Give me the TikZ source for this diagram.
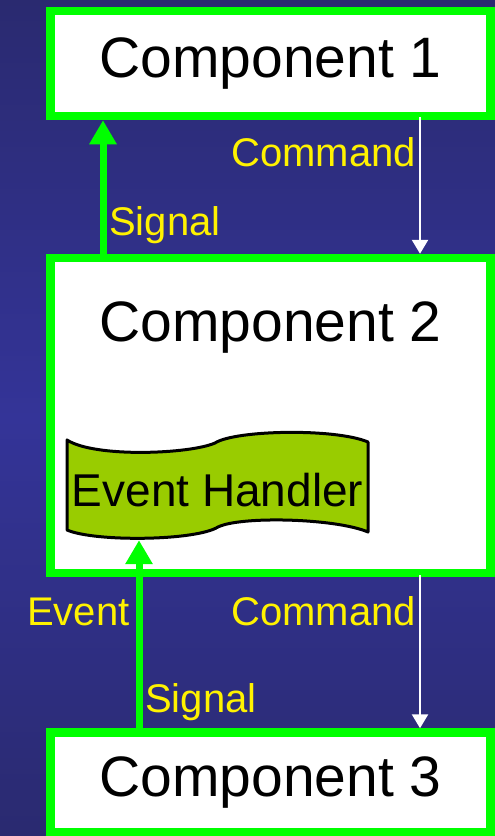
\documentclass[tikz,border=0pt]{standalone}
\usepackage{fontspec}
\setmainfont{Liberation Sans}
\usetikzlibrary{arrows.meta}
\usetikzlibrary{positioning}

\definecolor{slideblue}{HTML}{343498}
\definecolor{slidedark}{HTML}{2A2A70}
\definecolor{boxgreen}{HTML}{00FF00}
\definecolor{handlergreen}{HTML}{99CC00}

\begin{document}
\begin{tikzpicture}[x=1pt,y=-1pt,
	comp node/.style={rectangle,draw=boxgreen,fill=white,line width=8.5pt,
		minimum width=440pt,font=\fontsize{57}{60}\selectfont},
	signal/.style={draw=boxgreen,line width=7pt,-{Triangle[width=26pt,length=24pt]}},
	command/.style={draw=white,line width=2.5pt,-{Triangle[width=16pt,length=14pt]}},
	tag/.style={text=yellow,font=\fontsize{40}{44}\selectfont,inner sep=0pt}]

	% background
	\fill[top color=slidedark,bottom color=slidedark,middle color=slideblue] (0,0) rectangle (495,836);
	\useasboundingbox (0,0) rectangle (495,836);

	\node[comp node,minimum height=105pt] (comp1) at (270.5,63.5) {Component 1};
	\node[comp node,minimum height=315pt] (comp2) at (270.5,415.5) {};
	\node[comp node,minimum height=99.5pt] (comp3) at (270.5,782.25) {Component 3};
	\node[font=\fontsize{57}{60}\selectfont,inner sep=0pt] (comp2title) [below=47.5pt of comp2.north] {Component 2};

	% event handler banner
	\draw[fill=handlergreen,line width=3pt,line join=round]
	(67,440) .. controls (95,458) and (190,454) .. (215,443)
	.. controls (235,430) and (335,428) .. (368,442) -- (368,532)
	.. controls (335,518) and (240,516) .. (218,527)
	.. controls (195,541) and (95,542) .. (67,530) -- cycle;
	\node[font=\fontsize{46}{50}\selectfont,inner sep=0pt,minimum height=100pt] (handler) at (217.5,490) {Event Handler};

	\draw[signal] ([xshift=-167.5pt]comp2.north) -- ([xshift=-167.5pt]comp1.south);
	\draw[command] ([xshift=149.5pt,yshift=3pt]comp1.south) -- ([xshift=149.5pt]comp2.north);
	\draw[command] ([xshift=149.5pt,yshift=2pt]comp2.south) -- ([xshift=149.5pt]comp3.north);
	\draw[signal] ([xshift=-131.5pt]comp3.north) -- ([xshift=-78.5pt]handler.south);

	\node[tag,anchor=base west] (sig1) at (109,235) {Signal};
	\node[tag,anchor=base east] (cmd1) at (416,166) {Command};
	\node[tag,anchor=base west] (evt) at (27,625) {Event};
	\node[tag,anchor=base east] (cmd2) at (416,625) {Command};
	\node[tag,anchor=base west] (sig2) at (145,712) {Signal};
\end{tikzpicture}
\end{document}
